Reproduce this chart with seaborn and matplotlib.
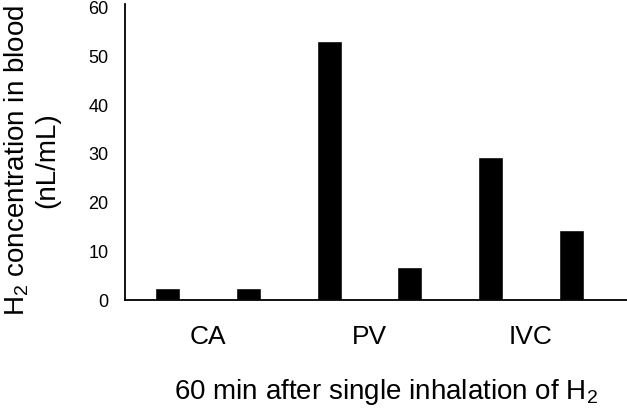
import pandas as pd
import seaborn as sns
import matplotlib.pyplot as plt

# values
sites = ['CA', 'CA', 'PV', 'PV', 'IVC', 'IVC']
series = ['first', 'second', 'first', 'second', 'first', 'second']
h2_conc = [2.4, 2.4, 53.3, 6.8, 29.4, 14.3]
y_ticks = [0, 10, 20, 30, 40, 50, 60]

df = pd.DataFrame({'Site': sites, 'Series': series, 'H2': h2_conc})

sns.set_style('white')
plt.rcParams['font.family'] = ['Liberation Sans', 'DejaVu Sans']
plt.rcParams['mathtext.fontset'] = 'custom'
plt.rcParams['mathtext.rm'] = 'Liberation Sans'
plt.rcParams['mathtext.default'] = 'regular'
plt.rcParams['text.color'] = 'black'
plt.rcParams['axes.labelcolor'] = 'black'
plt.rcParams['xtick.color'] = 'black'
plt.rcParams['ytick.color'] = 'black'

fig = plt.figure(figsize=(6.27, 4.08), dpi=100)
ax = fig.add_axes([0.1994, 0.2647, 0.8006, 0.7157])

sns.barplot(data=df, x='Site', y='H2', hue='Series', palette=['black', 'black'],
            width=1.0, gap=0.69, legend=False, ax=ax, saturation=1)

ax.set_ylim(0, 60)
ax.set_xlim(-0.514, 2.594)
ax.set_yticks(y_ticks)
ax.tick_params(axis='y', labelsize=13, length=10.5, width=1, colors='black', pad=1.5)
ax.tick_params(axis='x', labelsize=19, length=0, colors='black', pad=18)
# only the zero tick has a visible mark
for t in ax.yaxis.get_major_ticks()[1:]:
    t.tick1line.set_visible(False)

for side in ['top', 'right']:
    ax.spines[side].set_visible(False)
for side in ['left', 'bottom']:
    ax.spines[side].set_color('black')
    ax.spines[side].set_linewidth(1.3)
ax.spines['left'].set_bounds(0, 60.8)

ax.set_ylabel('H$_2$ concentration in blood\n(nL/mL)', fontsize=20, linespacing=1.15,
              color='black')
ax.yaxis.set_label_coords(-0.13, 0.479)
ax.set_xlabel('60 min after single inhalation of H$_2$', fontsize=20, color='black')
ax.xaxis.set_label_coords(0.52, -0.262)

fig.savefig('out.png', dpi=100)
